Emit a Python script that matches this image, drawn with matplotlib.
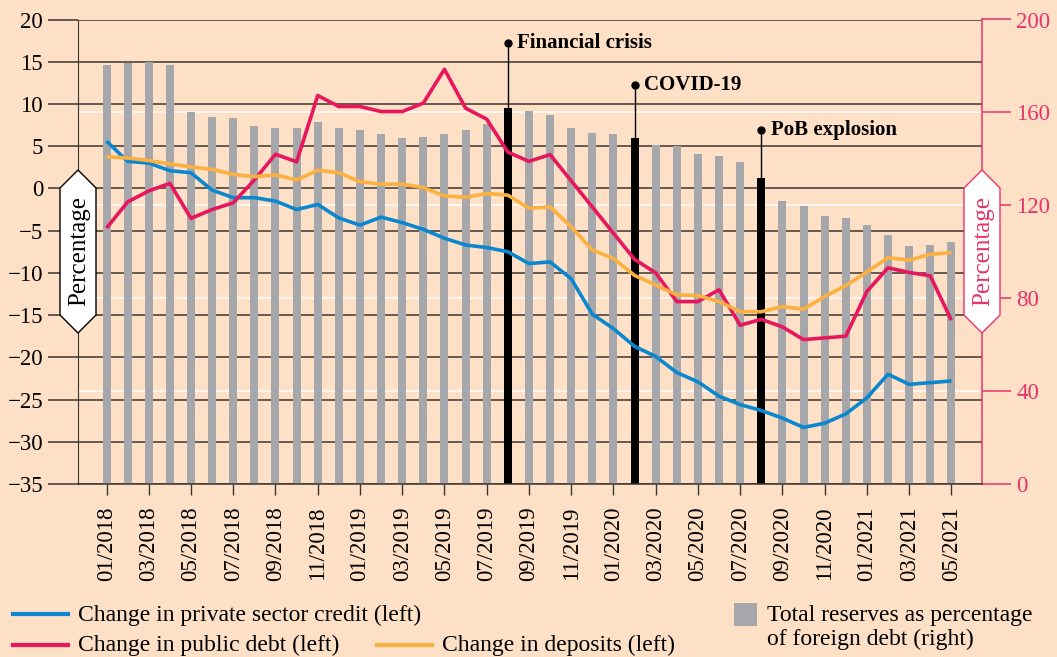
import numpy as np
import pandas as pd
import matplotlib
matplotlib.use("Agg")
import matplotlib.pyplot as plt
from matplotlib.patches import Polygon, Rectangle
from matplotlib.lines import Line2D
from matplotlib.transforms import blended_transform_factory

plt.rcParams['font.family'] = ['Liberation Serif', 'DejaVu Serif']

# data
months = list(pd.date_range('2018-01-01', periods=41, freq='MS').strftime('%m/%Y'))
private_credit = [5.6, 3.2, 3.0, 2.1, 1.85, -0.2, -1.1, -1.1, -1.5, -2.5, -1.9, -3.5,
                  -4.35, -3.4, -4.05, -4.85, -5.9, -6.7, -7.0, -7.5, -8.9, -8.7, -10.7,
                  -14.9, -16.6, -18.7, -19.9, -21.8, -22.9, -24.6, -25.6, -26.3, -27.2,
                  -28.3, -27.8, -26.7, -24.8, -22.0, -23.2, -23.0, -22.8]
public_debt = [-4.7, -1.6, -0.3, 0.6, -3.55, -2.5, -1.7, 1.0, 4.05, 3.15, 11.0, 9.7,
               9.7, 9.1, 9.1, 10.1, 14.1, 9.5, 8.2, 4.3, 3.2, 4.0, 0.9, -2.2, -5.3,
               -8.4, -10.0, -13.4, -13.4, -12.0, -16.2, -15.5, -16.4, -17.9, -17.7,
               -17.5, -12.2, -9.4, -9.95, -10.35, -15.6]
deposits = [3.75, 3.6, 3.3, 2.9, 2.55, 2.25, 1.65, 1.4, 1.6, 1.0, 2.15, 1.85, 0.8,
            0.5, 0.5, 0.1, -0.9, -1.05, -0.6, -0.8, -2.35, -2.2, -4.55, -7.3, -8.3,
            -10.3, -11.45, -12.6, -12.7, -13.4, -14.6, -14.6, -14.0, -14.3, -12.8,
            -11.5, -9.9, -8.2, -8.5, -7.8, -7.6]
reserves = [180.4, 181.1, 181.5, 180.4, 160.0, 158.2, 157.5, 154.2, 153.3, 153.2,
            155.9, 153.2, 152.6, 150.9, 149.0, 149.4, 150.6, 152.6, 154.8, 161.7,
            160.4, 158.8, 153.1, 151.3, 150.5, 148.9, 145.8, 145.5, 142.3, 141.1,
            138.6, 131.9, 121.8, 119.5, 115.2, 114.6, 111.6, 107.0, 102.4, 102.7, 104.1]
event_months = ['08/2019', '02/2020', '08/2020']
event_labels = ['Financial crisis', 'COVID-19', 'PoB explosion']
event_label_y = [190, 171.7, 152.6]

left_ticks = [20, 15, 10, 5, 0, -5, -10, -15, -20, -25, -30, -35]
right_ticks = [0, 40, 80, 120, 160, 200]

bg = '#fde0c5'
blue = '#0b87cf'
pink = '#e8175d'
orange = '#fbb040'
grey = '#a6a7ab'
axis_pink = '#e8336b'
dark = '#3d3530'

x = np.arange(len(months))
event_idx = [months.index(m) for m in event_months]
bar_colors = ['black' if i in event_idx else grey for i in x]

fig = plt.figure(figsize=(10.57, 6.57), dpi=100, facecolor=bg)
ax = fig.add_axes([78 / 1057, 173 / 657, 904 / 1057, 464.5 / 657])
axr = ax.twinx()
ax.set_zorder(axr.get_zorder() + 1)
ax.patch.set_visible(False)
axr.set_facecolor(bg)

# bars on the right scale
axr.set_ylim(0, 200)
axr.set_yticks(right_ticks)
axr.grid(axis='y', color='white', lw=1.1)
axr.set_axisbelow(True)
axr.hlines(left_ticks, 0, 1, transform=blended_transform_factory(axr.transAxes, ax.transData),
           color=dark, lw=1.1, zorder=0.8)
axr.bar(x, reserves, width=0.38, color=bar_colors, zorder=1)
for i, lab, ly in zip(event_idx, event_labels, event_label_y):
    axr.plot([i, i], [reserves[i], ly], color='black', lw=1, zorder=2)
    axr.plot(i, ly, 'o', color='black', ms=5, zorder=2)
    axr.text(i + 0.45, ly, lab, fontsize=15, fontweight='bold', va='center', ha='left')

# lines on the left scale
ax.plot(x, private_credit, color=blue, lw=2.6, solid_capstyle='butt')
ax.plot(x, public_debt, color=pink, lw=2.6, solid_capstyle='butt')
ax.plot(x, deposits, color=orange, lw=2.6, solid_capstyle='butt')
ax.set_ylim(-35, 20)
ax.set_yticks(left_ticks)
ax.set_xlim(-1.35, 41.45)
ax.set_xticks(x[::2])
ax.set_xticklabels(months[::2], rotation=90)

ax.tick_params(axis='y', length=21.6, width=1.1, color=dark, pad=3.5, labelsize=16.5)
ax.tick_params(axis='x', length=8, width=1, color=dark, pad=8, labelsize=16.5)
axr.tick_params(axis='y', length=21, width=1.1, color=axis_pink, labelcolor=axis_pink,
                pad=3.5, labelsize=16.5)
for s in ['top', 'right']:
    ax.spines[s].set_visible(False)
ax.spines['left'].set_color(dark)
ax.spines['bottom'].set_color(dark)
ax.spines['bottom'].set_linewidth(1.1)
for s in ['top', 'left', 'bottom']:
    axr.spines[s].set_visible(False)
axr.spines['right'].set_color(axis_pink)
axr.spines['right'].set_linewidth(1.1)

# overlay in pixel coordinates for the axis tags and legend
ov = fig.add_axes([0, 0, 1, 1], zorder=10)
ov.set_xlim(0, 1057)
ov.set_ylim(657, 0)
ov.axis('off')
ov.patch.set_visible(False)

for cx, col in [(78, 'black'), (982, axis_pink)]:
    pts = [(cx, 170), (cx + 18, 188), (cx + 18, 315), (cx, 333),
           (cx - 18, 315), (cx - 18, 188)]
    ov.add_patch(Polygon(pts, closed=True, facecolor='white', edgecolor=col, lw=1))
    ov.text(cx + 1, 251.5, 'Percentage', rotation=90, ha='center', va='center',
            fontsize=18, color=col)

legend_rows = [(13, 614, 620.5, blue, 'Change in private sector credit (left)'),
               (13, 645, 651, pink, 'Change in public debt (left)'),
               (377, 645, 651, orange, 'Change in deposits (left)')]
for lx, ly, ty, col, lab in legend_rows:
    ov.add_line(Line2D([lx, lx + 55], [ly, ly], color=col, lw=3))
    ov.text(lx + 65, ty, lab, fontsize=17, va='baseline', ha='left')
ov.add_patch(Rectangle((734, 603), 22.5, 22.5, facecolor=grey, edgecolor='none'))
ov.text(767, 620.5, 'Total reserves as percentage', fontsize=17, va='baseline')
ov.text(767, 645.5, 'of foreign debt (right)', fontsize=17, va='baseline')

fig.savefig('out.png', dpi=100, facecolor=bg)
